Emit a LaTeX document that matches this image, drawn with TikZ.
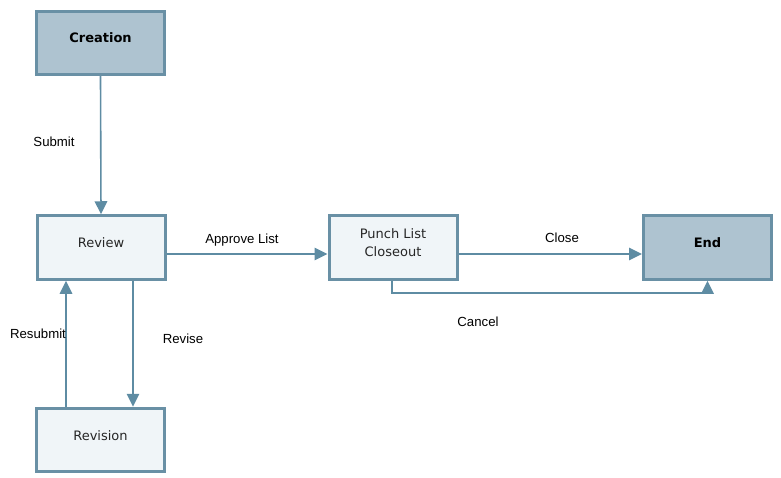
\documentclass[tikz,border=0pt]{standalone}
\usepackage{fontspec}
\setmainfont{Liberation Sans}
\newfontfamily\boxfont{DejaVu Sans}
\usetikzlibrary{arrows.meta,calc}
\definecolor{darkfill}{HTML}{AEC3D0}
\definecolor{lightfill}{HTML}{F0F5F8}
\definecolor{boxline}{HTML}{6990A5}
\definecolor{arrline}{HTML}{5E8CA3}
\newcommand\ctrtext[1]{\raisebox{0pt}[5pt][5pt]{#1}}
\newcommand\twolines[2]{\raisebox{0pt}[5pt][5pt]{\makebox[0pt]{\raisebox{9pt}{#1}}\makebox[0pt]{\raisebox{-9pt}{#2}}}}
\tikzset{
  stepbox/.style={draw=boxline, line width=3pt, fill=lightfill, minimum width=128pt, minimum height=63.5pt, inner sep=0pt, font=\boxfont\fontsize{13}{18}\selectfont, text=black!85},
  endbox/.style={stepbox, fill=darkfill, font=\boxfont\bfseries\fontsize{13}{18}\selectfont, text=black},
  arr/.style={draw=arrline, line width=1.6pt, -{Triangle[length=13pt,width=12.5pt]}},
  lbl/.style={font=\fontsize{13.2}{15}\selectfont, text=black, inner sep=0pt}
}
\begin{document}
\begin{tikzpicture}[x=1pt,y=-1pt]
\useasboundingbox (0,0) rectangle (781,478);
\node[endbox] (creation) at (100.5,43) {\ctrtext{Creation}};
\node[stepbox] (review) at (101,247.5) {\ctrtext{Review}};
\node[stepbox] (revision) at (100.5,440) {\ctrtext{Revision}};
\node[stepbox] (punch) at (393,247.5) {\twolines{Punch List}{Closeout}};
\node[endbox] (end) at (707.5,247.5) {\ctrtext{End}};

\draw[arr] (creation.south) -- (review.north);
\draw[arr] ([yshift=-6.5pt]review.east) -- ([yshift=-6.5pt]punch.west);
\draw[arr] ([yshift=-6.5pt]punch.east) -- ([yshift=-6.5pt]end.west);
\draw[arr] ([xshift=-1pt]punch.south) -- ++(0,12) -| (end.south);
\draw[arr] ([xshift=32pt]review.south) -- ([xshift=32.5pt]revision.north);
\draw[arr] ([xshift=-34.5pt]revision.north) -- ([xshift=-35pt]review.south);

\node[lbl] (lsubmit) at (54,142) {Submit};
\node[lbl] (lapprove) at (242,240) {Approve List};
\node[lbl] (lclose) at (562,238) {Close};
\node[lbl] (lcancel) at (478,322) {Cancel};
\node[lbl] (lrevise) at (183,339) {Revise};
\node[lbl] (lresubmit) at (38,334) {Resubmit};
\end{tikzpicture}
\end{document}
